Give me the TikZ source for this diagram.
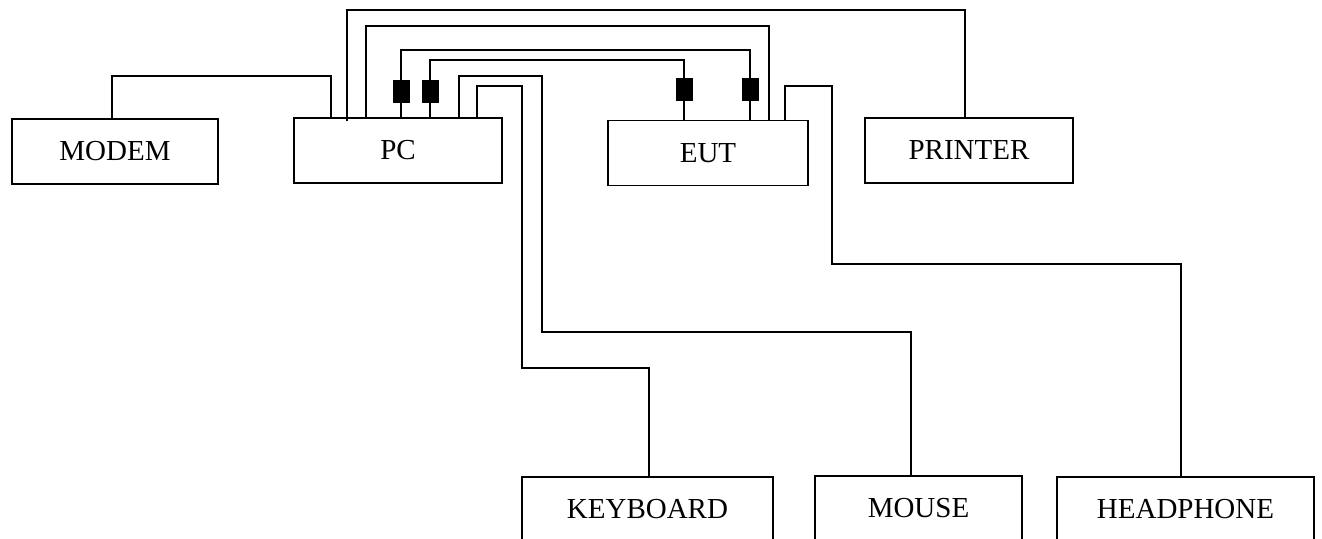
\documentclass[tikz,border=0pt]{standalone}
\usepackage{fontspec}
\setmainfont{Liberation Serif}
\usepackage{tikz}
\usetikzlibrary{calc}

\begin{document}
\begin{tikzpicture}[x=0.02cm, y=-0.02cm,
        unit/.style={draw=black, line width=1.1pt, fill=white, inner sep=0pt,
          minimum height=1.3cm, font=\fontsize{16.5}{20}\selectfont},
        cable/.style={draw=black, line width=1.1pt},
        ferrite/.style={draw=black, fill=black, inner sep=0pt,
          minimum width=0.32cm, minimum height=0.44cm},
      ]
        \useasboundingbox (0,0) rectangle (1322,538);

        \node[unit, minimum width=4.12cm] (modem) at (115,151.5) {MODEM};
        \node[unit, minimum width=4.16cm] (pc) at (398,150.5) {PC};
        \node[unit, minimum width=4.0cm] (eut) at (708,153) {EUT};
        \node[unit, minimum width=4.16cm] (printer) at (969,150.5) {PRINTER};
        \node[unit, minimum width=5.02cm] (keyboard) at (647.5,509.5) {KEYBOARD};
        \node[unit, minimum width=4.14cm] (mouse) at (918.5,508.5) {MOUSE};
        \node[unit, minimum width=5.14cm] (headphone) at (1185.5,509.5) {HEADPHONE};

        \draw[cable] (112,0 |- modem.north) |- (331,76) -- (331,0 |- pc.north);
        \draw[cable] (347,121) |- (965,10) -- (965,0 |- printer.north);
        \draw[cable] (366,0 |- pc.north) |- (769,26) -- (769,0 |- eut.north);
        \draw[cable] (401,0 |- pc.north) |- (750,50) -- (750,0 |- eut.north);
        \draw[cable] (430,0 |- pc.north) |- (684,60) -- (684,0 |- eut.north);
        \draw[cable] (459,0 |- pc.north) |- (542,76) |- (911,332) -- (911,0 |- mouse.north);
        \draw[cable] (477,0 |- pc.north) |- (522,86) |- (649,368) -- (649,0 |- keyboard.north);
        \draw[cable] (785,0 |- eut.north) |- (832,86) |- (1181,264) -- (1181,0 |- headphone.north);

        \node[ferrite] (fpc1) at (401,91) {};
        \node[ferrite] (fpc2) at (430,91) {};
        \node[ferrite] (feut1) at (684,89) {};
        \node[ferrite] (feut2) at (750,89) {};
      \end{tikzpicture}
\end{document}
